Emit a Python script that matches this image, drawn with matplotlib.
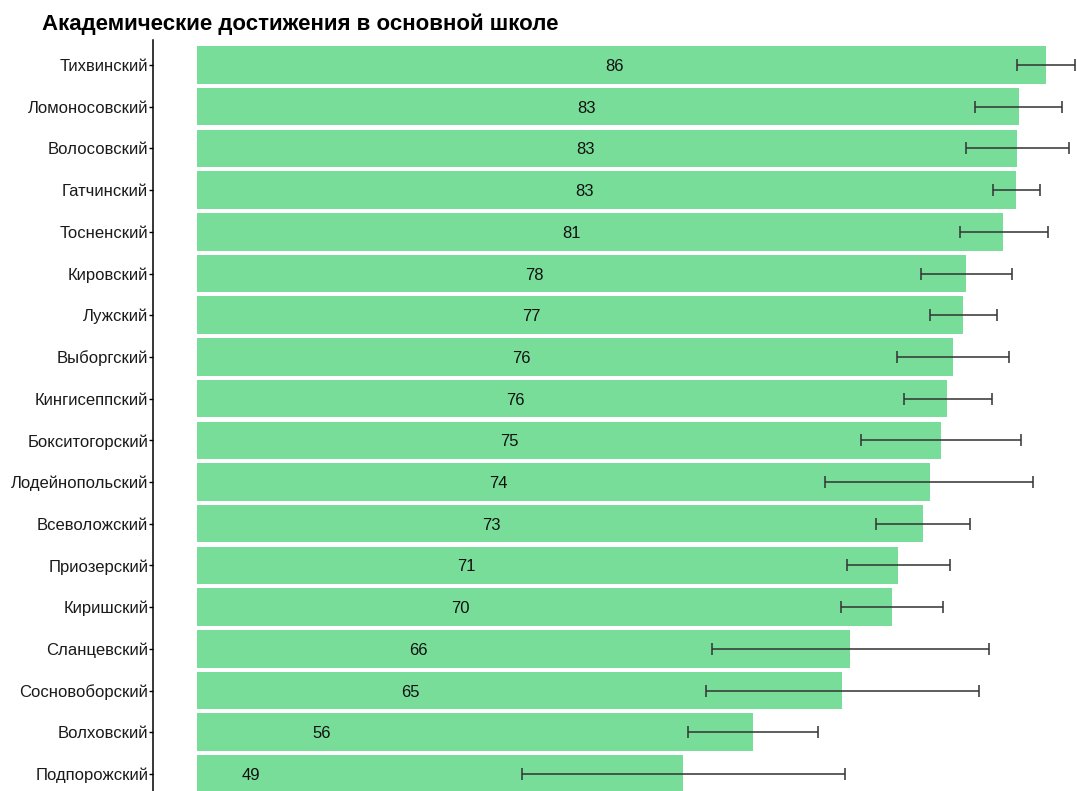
import numpy as np
import matplotlib.pyplot as plt

plt.rcParams['font.family'] = ['Liberation Sans', 'DejaVu Sans']

districts = ['Тихвинский', 'Ломоносовский', 'Волосовский', 'Гатчинский', 'Тосненский',
             'Кировский', 'Лужский', 'Выборгский', 'Кингисеппский', 'Бокситогорский',
             'Лодейнопольский', 'Всеволожский', 'Приозерский', 'Киришский', 'Сланцевский',
             'Сосновоборский', 'Волховский', 'Подпорожский']
values = [85.8, 83.0, 82.8, 82.7, 81.4, 77.7, 77.4, 76.4, 75.8, 75.2,
          74.0, 73.3, 70.8, 70.2, 66.0, 65.2, 56.2, 49.1]
err_low = [82.8, 78.6, 77.7, 80.4, 77.1, 73.1, 74.0, 70.7, 71.4, 67.1,
           63.4, 68.6, 65.7, 65.1, 52.0, 51.4, 49.6, 32.8]
err_high = [88.7, 87.4, 88.1, 85.2, 86.0, 82.3, 80.8, 82.0, 80.3, 83.2,
            84.5, 78.1, 76.1, 75.4, 80.0, 79.0, 62.7, 65.5]

fig = plt.figure(figsize=(10.77, 7.91), dpi=100)
ax = fig.add_axes([153/1077, 0, 1 - 153/1077, 751/791])

y = np.arange(len(districts))
ax.barh(y, values, height=0.9, color='#77dd99')
for i, v in enumerate(values):
    ax.text(v - 43.6, i, f'{round(v)}', ha='center', va='center_baseline',
            fontsize=12, color='#111111')

xc = (np.array(err_low) + np.array(err_high)) / 2
xerr = (np.array(err_high) - np.array(err_low)) / 2
ax.errorbar(xc, y, xerr=xerr, fmt='none', ecolor='#333333', alpha=0.85,
            elinewidth=1.3, capsize=4.5, capthick=1.3)

ax.set_yticks(y)
ax.set_yticklabels(districts, fontsize=12, color='#1a1a1a')
ax.set_ylim(17.41, -0.6)
ax.set_xlim(-4.44, 88.9)
ax.set_xticks([])
for s in ['top', 'right', 'bottom']:
    ax.spines[s].set_visible(False)
ax.spines['left'].set_linewidth(1.1)
ax.tick_params(axis='y', length=3, width=1, pad=0.5)

fig.text(42/1077, 1 - 30/791, 'Академические достижения в основной школе',
         fontsize=16, fontweight='bold', ha='left', va='baseline')

fig.savefig('out.png', dpi=100)
